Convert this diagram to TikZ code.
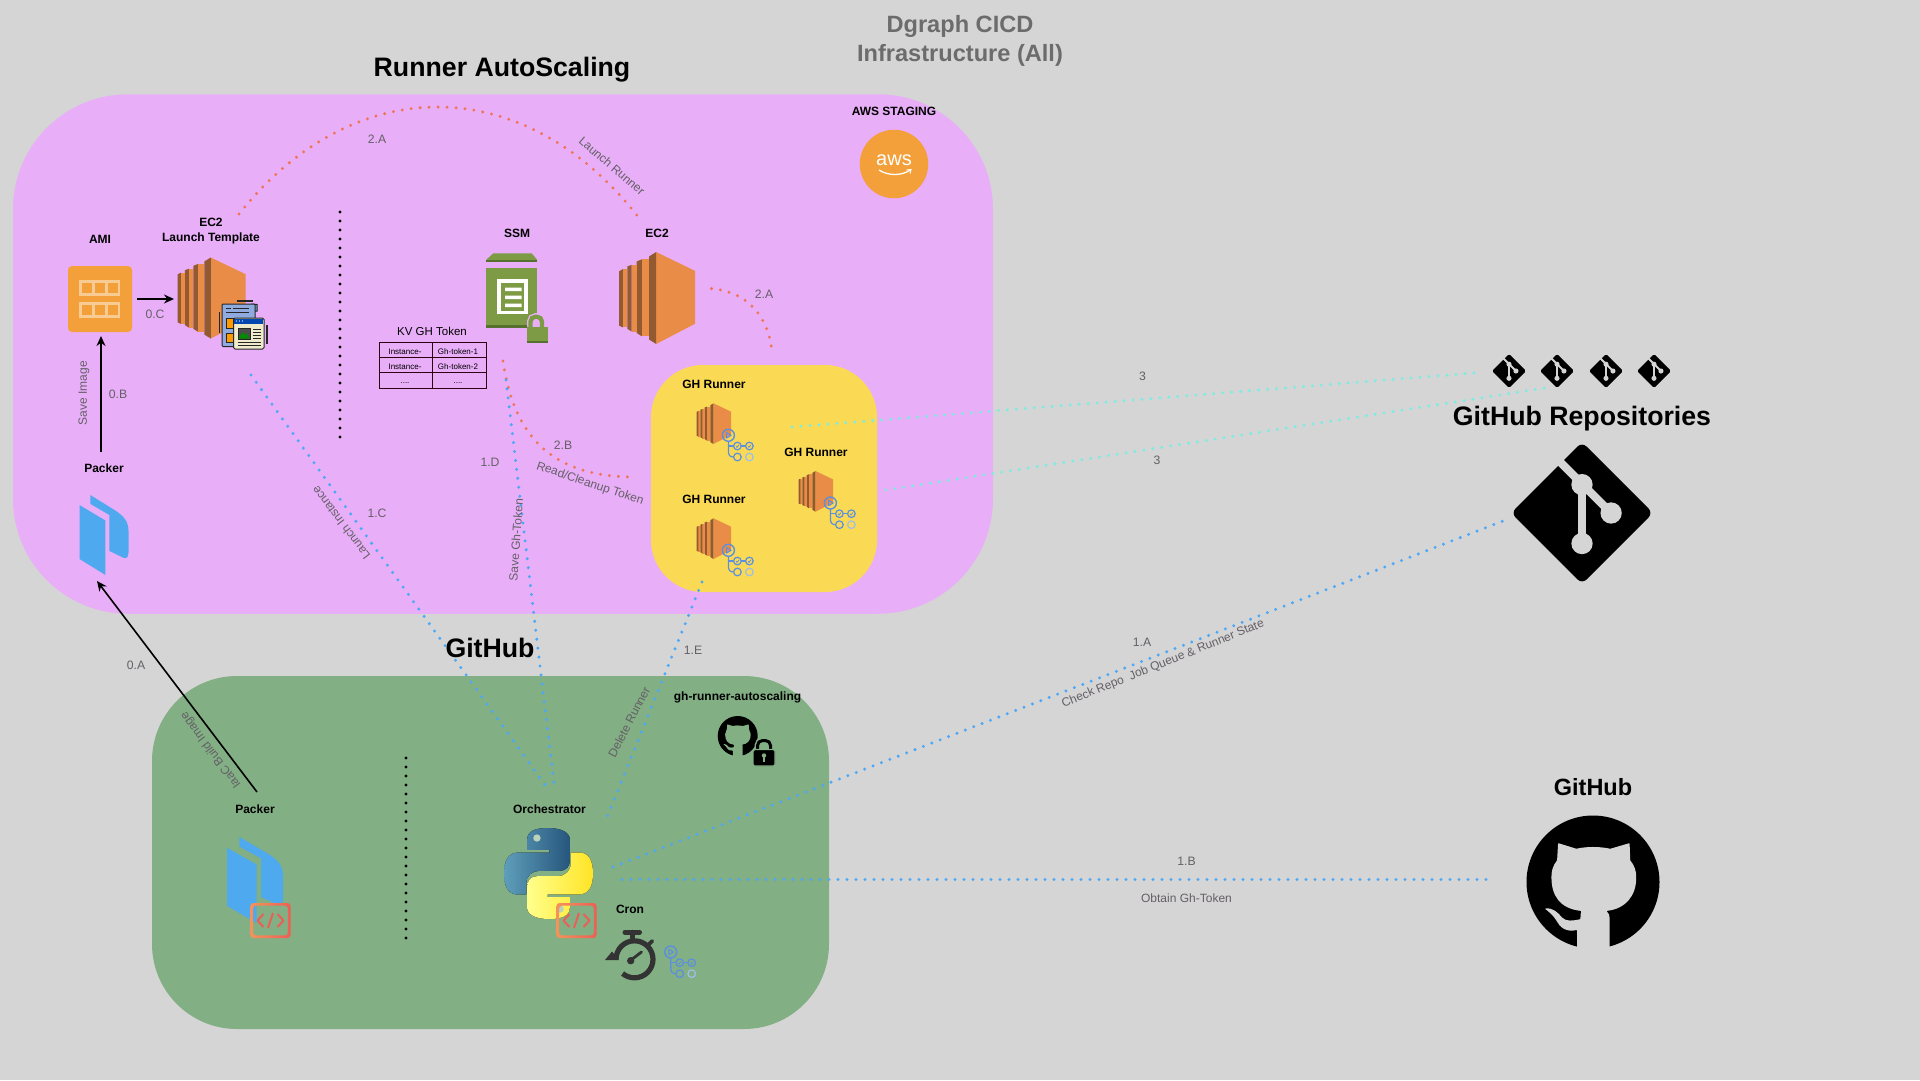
\documentclass[tikz,border=0pt]{standalone}
\usepackage{fontspec}
\setmainfont{Liberation Sans}
\usetikzlibrary{arrows.meta}
\definecolor{bgc}{HTML}{D5D5D5}
\definecolor{pinkc}{HTML}{E9AEF8}
\definecolor{yellowc}{HTML}{FADA55}
\definecolor{greenc}{HTML}{82AF84}
\definecolor{bluedot}{HTML}{4DA8F7}
\definecolor{reddot}{HTML}{EE7558}
\definecolor{cyandot}{HTML}{7DEDE2}
\definecolor{graytxt}{HTML}{646066}
\definecolor{awso}{HTML}{F3A03A}
\definecolor{ecl}{HTML}{E98C47}
\definecolor{ecd}{HTML}{935930}
\definecolor{ssmg}{HTML}{7D9B45}
\definecolor{ssmd}{HTML}{55702F}
\definecolor{pk}{HTML}{4FA9EE}
\definecolor{act}{HTML}{5B8FE0}
\definecolor{actp}{HTML}{9FBEE8}
\definecolor{badgea}{HTML}{F4935A}
\definecolor{badgeb}{HTML}{EC5F55}
\newcommand{\fsz}[2]{\fontsize{#1}{#2}\selectfont}
\tikzset{
  x=1pt,y=-1pt,
  every node/.style={inner sep=0pt,outer sep=0pt},
  dotline/.style={line cap=round,line width=3.3pt,dash pattern=on 0pt off 9pt},
  bigarrow/.style={line width=1.6pt,-{Stealth[length=10pt,width=9pt]}},
  boldlbl/.style={font=\bfseries\fsz{12}{15},text=black,align=center},
  steplbl/.style={font=\fsz{12.2}{14},text=graytxt},
  edgelbl/.style={font=\fsz{12}{14},text=graytxt},
  bigtitle/.style={font=\bfseries\fsz{26.7}{30},text=black},
  tabletxt/.style={font=\fsz{8}{9},text=black},
  panel/.style={rectangle,draw=none},
}
% EC2 icon: x0,y0,w,h
\newcommand{\ecicon}[4]{\begin{scope}[shift={(#1,#2)},x=#3pt,y=-#4pt]
  \fill[ecl] (.489,0)--(1,.205)--(1,.78)--(.489,1)--cycle;
  \fill[ecd] (.396,.048)--(.489,0)--(.489,1)--(.396,.952)--cycle;
  \fill[ecl] (.30,.08)--(.396,.08)--(.396,.916)--(.30,.916)--cycle;
  \fill[ecd] (.233,.103)--(.30,.08)--(.30,.916)--(.233,.88)--cycle;
  \fill[ecl] (.167,.139)--(.233,.139)--(.233,.865)--(.167,.865)--cycle;
  \fill[ecd] (.11,.157)--(.167,.139)--(.167,.865)--(.11,.835)--cycle;
  \fill[ecl] (.05,.186)--(.11,.186)--(.11,.82)--(.05,.82)--cycle;
  \fill[ecd] (0,.21)--(.05,.186)--(.05,.82)--(0,.80)--cycle;
\end{scope}}
% actions workflow icon: top-left x,y
\newcommand{\acticon}[2]{\begin{scope}[shift={(#1,#2)},line width=1.2pt]
  \draw[act,line width=1.4pt] (6.7,7) circle[radius=6pt];
  \draw[act,line width=1pt,line join=round] (4.8,4.2)--(9.5,7)--(4.8,9.8)--cycle;
  \draw[act] (6.7,13)--(6.7,23) .. controls (6.7,27) and (8.5,28.7) .. (11.9,28.7);
  \draw[act] (6.7,17.7)--(11.9,17.7);
  \draw[act] (19.5,17.7)--(23.9,17.7);
  \draw[act] (15.7,17.7) circle[radius=3.8pt];
  \draw[act] (27.7,17.7) circle[radius=3.8pt];
  \draw[act] (15.7,28.7) circle[radius=3.8pt];
  \draw[actp] (27.7,28.7) circle[radius=3.8pt];
  \draw[act,line width=.7pt] (14.2,17.8)--(15.3,19)--(17.3,16.6);
  \draw[act,line width=.7pt] (26.2,17.8)--(27.3,19)--(29.3,16.6);
\end{scope}}
% git logo: cx,cy,half-diagonal,colour of cut-outs
\newcommand{\gitlogo}[4]{\begin{scope}[shift={(#1,#2)},x=#3pt,y=-#3pt]
  \pgfmathsetmacro{\rc}{0.09*#3}
  \pgfmathsetmacro{\lwa}{0.115*#3}
  \pgfmathsetmacro{\rr}{0.15*#3}
  \fill[black,rounded corners=\rc pt] (0,-1)--(1,0)--(0,1)--(-1,0)--cycle;
  \draw[#4,line width=\lwa pt] (-.36,-.77)--(.41,0);
  \draw[#4,line width=\lwa pt] (0,-.4)--(0,.43);
  \fill[#4] (0,-.4) circle[radius=\rr pt];
  \fill[#4] (.41,0) circle[radius=\rr pt];
  \fill[#4] (0,.43) circle[radius=\rr pt];
\end{scope}}
% octocat: cx,cy,r,cut-out colour
\newcommand{\octo}[4]{\begin{scope}[shift={(#1,#2)},x=#3pt,y=-#3pt]
  \fill[black] (0,0) circle[radius=#3pt];
  \fill[#4,rounded corners=.6pt] (-.525,-.585) -- (-.25,-.5) .. controls (-.1,-.535) and (.1,-.535) .. (.26,-.5)
    -- (.55,-.585) -- (.56,-.325) .. controls (.62,-.25) and (.65,-.17) .. (.65,-.075)
    .. controls (.65,.2) and (.5,.4) .. (.2,.435)
    .. controls (.24,.46) and (.25,.5) .. (.25,.6) -- (.25,.93) -- (.25,1.06) -- (-.24,1.06) -- (-.24,.93) -- (-.24,.72)
    .. controls (-.4,.76) and (-.5,.68) .. (-.55,.58) .. controls (-.6,.5) and (-.66,.45) .. (-.725,.4)
    .. controls (-.6,.38) and (-.52,.47) .. (-.47,.53) .. controls (-.4,.6) and (-.3,.58) .. (-.19,.56)
    .. controls (-.19,.5) and (-.18,.46) .. (-.175,.435)
    .. controls (-.5,.4) and (-.625,.2) .. (-.625,-.075) .. controls (-.625,-.17) and (-.6,-.25) .. (-.54,-.325) -- cycle;
\end{scope}}
% code badge: x0,y0 (40x35)
\newcommand{\badge}[2]{\begin{scope}[shift={(#1,#2)}]
  \shade[even odd rule,left color=badgea,right color=badgeb,rounded corners=3pt] (0,0) rectangle (40,35) (2.6,2.6) rectangle (37.4,32.4);
  \draw[badgeb,line width=2pt,line join=round] (13,11)--(7,17.5)--(13,24);
  \draw[badgeb,line width=2pt,line join=round] (27,11)--(33,17.5)--(27,24);
  \draw[badgeb,line width=2pt] (22.5,10)--(17.5,25);
\end{scope}}
% packer icon: x0,y0,w,h
\newcommand{\packer}[4]{\begin{scope}[shift={(#1,#2)},x=#3pt,y=-#4pt]
  \fill[pk] (0,.125)--(.53,.32)--(.53,1)--(0,.8)--cycle;
  \fill[pk] (.22,0)--(.72,.19) .. controls (.9,.26) and (1,.33) .. (1,.45) -- (1,.72) .. controls (1,.8) and (.92,.8) .. (.85,.77)
    -- (.61,.70) -- (.61,.25) -- (.22,.11) -- cycle;
\end{scope}}
\begin{document}
\begin{tikzpicture}
\useasboundingbox (0,0) rectangle (1920,1080);
\fill[bgc] (0,0) rectangle (1920,1080);
% panels
\node[panel,fill=pinkc,minimum width=980pt,minimum height=519.5pt,rounded corners=115pt] (awspanel) at (503,354) {};
\node[panel,fill=yellowc,minimum width=226pt,minimum height=227pt,rounded corners=52pt] (runnerpanel) at (764,478.5) {};
\node[panel,fill=greenc,minimum width=677pt,minimum height=353pt,rounded corners=85pt] (repopanel) at (490.5,852.5) {};
% connector ends
\coordinate (ltTop) at (239,214);
\coordinate (ecTop) at (639,218);
\coordinate (ecSide) at (711.5,288.6);
\coordinate (runTop) at (772,354);
\coordinate (ssmLow) at (503,361);
\coordinate (runLeft) at (629,477);
\coordinate (ltLow) at (251,375);
\coordinate (orchA) at (545,785);
\coordinate (ssmKey) at (506,380);
\coordinate (orchB) at (554,784);
\coordinate (runLow) at (702,582);
\coordinate (orchC) at (607.6,816);
\coordinate (orchD) at (613,867);
\coordinate (gitBig) at (1503,521);
\coordinate (orchE) at (622,879.5);
\coordinate (octoBig) at (1487,879.5);
\coordinate (runA) at (792,427);
\coordinate (repoA) at (1474,373);
\coordinate (runB) at (886,490);
\coordinate (repoB) at (1545,388);
\coordinate (amiIn) at (101,336);
\coordinate (pkOut) at (101,452);
\coordinate (amiOut) at (137,299);
\coordinate (ltIn) at (174,299);
\coordinate (pkGreenOut) at (257,792);
\coordinate (pkIn) at (97,581);
\coordinate (dotA) at (340,212);
\coordinate (dotB) at (340,437);
\coordinate (dotC) at (406,758);
\coordinate (dotD) at (406,939);
% dotted connectors
\draw[dotline,reddot] (ltTop) .. controls (353,70.7) and (525,70.7) .. (ecTop);
\draw[dotline,reddot] (ecSide) .. controls (750,292) and (770,320) .. (runTop);
\draw[dotline,reddot] (ssmLow) .. controls (515,445) and (560,475) .. (runLeft);
\draw[dotline,bluedot] (ltLow) -- (orchA);
\draw[dotline,bluedot] (ssmKey) -- (orchB);
\draw[dotline,bluedot] (runLow) -- (orchC);
\draw[dotline,bluedot] (orchD) -- (gitBig);
\draw[dotline,bluedot] (orchE) -- (octoBig);
\draw[dotline,cyandot] (runA) -- (repoA);
\draw[dotline,cyandot] (runB) -- (repoB);
\draw[dotline,black] (dotA) -- (dotB);
\draw[dotline,black] (dotC) -- (dotD);
% solid arrows
\draw[bigarrow] (pkOut) -- (amiIn);
\draw[bigarrow] (amiOut) -- (ltIn);
\draw[bigarrow] (pkGreenOut) -- (pkIn);
% titles
\node[font=\bfseries\fsz{23.6}{28.5},text=gray!85!black,align=center] (maintitle) at (960,41) {Dgraph CICD\\Infrastructure (All)};
\node[font=\bfseries\fsz{26.7}{30},text=black] (runnertitle) at (502,70) {Runner AutoScaling};
\node[bigtitle] (githubtitle) at (490,648) {GitHub};
\node[bigtitle] (repostitle) at (1582,419) {GitHub Repositories};
\node[font=\bfseries\fsz{23.5}{26},text=black] (ghright) at (1593,787) {GitHub};
% aws
\node[boldlbl] (awslbl) at (894,111) {AWS STAGING};
\node[circle,fill=awso,minimum size=68.5pt] (awscircle) at (894,164) {};
\node[font=\fsz{20}{20},text=white] (awstxt) at (894,160) {aws};
\draw[white,line width=1.3pt] (879,170) .. controls (888,176) and (902,176) .. (910,170);
\draw[white,line width=1pt] (906.5,170)--(911,169.5)--(910,173.5);
% AMI
\node[boldlbl] (amilbl) at (100,239) {AMI};
\node[panel,fill=awso,minimum width=64pt,minimum height=66pt,rounded corners=4pt] (ami) at (100,299) {};
\foreach \yy in {280,301.7}{
  \fill[awso!55!white] (79.3,\yy) rectangle (120,\yy+16);
  \foreach \xx in {82.3,95,107.7}{\fill[awso] (\xx,\yy+3) rectangle (\xx+10,\yy+13);}
}
\node[steplbl] (zeroC) at (155,314) {0.C};
% Launch template
\node[boldlbl] (ltlbl) at (211,231.5) {EC2\\Launch Template};
\ecicon{177.5}{257.5}{68}{81}
\begin{scope}[line width=1pt,draw=black!85]
  \fill[black!85] (236.7,300.3) rectangle (252.7,301.6);
  \fill[black!85] (218.6,311.7) rectangle (219.9,333);
  \fill[black!85] (266.4,325) rectangle (267.7,344);
  \filldraw[fill=blue!20!cyan!50!gray!85!white] (252,304)--(257,304.5)--(257,311)--(252,311)--cycle;
  \filldraw[fill=cyan!45!blue!45!white,rounded corners=1pt] (222,304) rectangle (255,346.5);
  \draw (226,308)--(231,308) (233,308)--(249,308) (226,312)--(249,312);
  \filldraw[fill=orange!80!yellow] (226.5,318) rectangle (233,328);
  \filldraw[fill=orange!80!yellow] (226.5,333) rectangle (233,342);
  \filldraw[fill=yellow!15!white!92!black,rounded corners=1.5pt] (233.5,318) rectangle (264,349);
  \fill[blue!60!cyan!70!black] (234,318.6) rectangle (263.4,323.8);
  \fill[white] (236.5,321) circle[radius=.7pt] (239.5,321) circle[radius=.7pt] (242.5,321) circle[radius=.7pt];
  \filldraw[fill=black!70] (238,328) rectangle (250,339);
  \fill[green!55!black] (238.5,338.5)--(243,332)--(245.5,335)--(247,333.5)--(249.5,338.5)--cycle;
  \draw (253,329)--(261,329) (253,332)--(261,332) (253,335)--(261,335) (253,338)--(261,338) (238,342.5)--(261,342.5) (238,345.5)--(261,345.5);
\end{scope}
% Packer (aws)
\node[boldlbl] (pklbl) at (104,468) {Packer};
\packer{79.5}{495}{49}{80}
\node[edgelbl,rotate=90] (saveimg) at (84,393) {Save Image};
\node[steplbl] (zeroB) at (118,394) {0.B};
% KV table
\node[font=\fsz{11.5}{13},text=black] (kvlbl) at (432,331) {KV GH Token};
\draw[black!75!purple,line width=.9pt] (379,342) rectangle (486,388) (379,357)--(486,357) (379,372)--(486,372) (432,342)--(432,388);
\node[tabletxt] (ta) at (405,351.7) {Instance-};
\node[tabletxt] (tb) at (458,351.7) {Gh-token-1};
\node[tabletxt] (tc) at (405,367) {Instance-};
\node[tabletxt] (td) at (458,367) {Gh-token-2};
\node[tabletxt] (te) at (405,383) {....};
\node[tabletxt] (tf) at (458,383) {....};
% SSM
\node[boldlbl] (ssmlbl) at (517,233) {SSM};
\fill[ssmg] (493.3,253.3)--(531.7,253.3)--(537.3,260)--(486,260)--cycle;
\fill[ssmd] (486,260) rectangle (537.3,262.3);
\fill[ssmg] (486,268.3) rectangle (537.3,325);
\fill[ssmd] (486,325) rectangle (537.3,327.7);
\fill[white] (497.3,279) rectangle (528.3,314.3);
\fill[ssmg] (501,282.7) rectangle (524.3,310.7);
\fill[white] (505,287.7) rectangle (521.7,291) (505,295.7) rectangle (521.7,299) (505,303.7) rectangle (521.7,307);
\draw[pinkc,line width=7pt,rounded corners=5pt,fill=pinkc] (530.5,330)--(530.5,316.7)--(542,316.7)--(542,330)--cycle;
\draw[ssmg,line width=4.3pt,rounded corners=5pt] (530.5,330)--(530.5,316.7)--(542,316.7)--(542,330);
\fill[ssmg] (526.7,326.7) rectangle (547.7,341);
\fill[ssmd] (526.7,341) rectangle (547.7,343.3);
% EC2
\node[boldlbl] (eclbl) at (657,233) {EC2};
\ecicon{619}{252}{76}{92}
% runners
\node[boldlbl] (runa) at (714,384) {GH Runner};
\node[boldlbl] (runb) at (714,499) {GH Runner};
\node[boldlbl] (runc) at (816,452) {GH Runner};
\ecicon{696.7}{403.3}{34.3}{40.7}
\ecicon{696.7}{518.3}{34.3}{40.7}
\ecicon{798.7}{471}{34.3}{40.7}
\acticon{721.7}{428.3}
\acticon{721.7}{543.3}
\acticon{823.7}{496}
% edge labels
\node[steplbl] (l2a) at (377,139) {2.A};
\node[edgelbl,rotate=-40.5] (launchrun) at (612,166) {Launch Runner};
\node[steplbl] (l2a2) at (764,294) {2.A};
\node[steplbl] (l2b) at (563,445) {2.B};
\node[edgelbl,rotate=-18.6] (readtok) at (590,484) {Read/Cleanup Token};
\node[steplbl] (l1d) at (490,462) {1.D};
\node[edgelbl,rotate=86] (savetok) at (516,540) {Save Gh-Token};
\node[steplbl] (l1c) at (377,513) {1.C};
\node[edgelbl,rotate=127] (launchinst) at (341,523) {Launch Instance};
\node[steplbl] (l1e) at (693,650) {1.E};
\node[edgelbl,rotate=62.6] (delrun) at (629,722) {Delete Runner};
\node[steplbl] (l0a) at (136,665) {0.A};
\node[edgelbl,rotate=127] (iaac) at (211,750) {IaaC Build Image};
\node[steplbl] (l1a) at (1142,642) {1.A};
\node[edgelbl,rotate=21.9] (checkrepo) at (1163,664) {Check Repo\ \ Job Queue \& Runner State};
\node[steplbl] (l1b) at (1186.5,861) {1.B};
\node[edgelbl] (obtain) at (1186.5,898) {Obtain Gh-Token};
\node[steplbl] (l3a) at (1142.5,376) {3};
\node[steplbl] (l3b) at (1157,460) {3};
% green panel
\node[boldlbl] (repolbl) at (737.5,697) {gh-runner-autoscaling};
\octo{737.7}{736}{20}{greenc}
\draw[greenc,line width=6pt,rounded corners=5pt] (757.5,752)--(757.5,740.5)--(770.5,740.5)--(770.5,752);
\draw[black,line width=3pt,rounded corners=5pt] (757.5,752)--(757.5,740.5)--(770.5,740.5)--(770.5,752);
\filldraw[fill=black,draw=greenc,line width=1.4pt,rounded corners=1.5pt] (753,749.5) rectangle (775,766);
\fill[greenc] (764,755.5) circle[radius=2.2pt];
\fill[greenc] (763,756) rectangle (765,761.5);
\node[boldlbl] (pkglbl) at (255,809) {Packer};
\packer{227}{837}{56}{86}
\badge{250.5}{903}
\node[boldlbl] (orchlbl) at (549.5,809) {Orchestrator};
\begin{scope}[shift={(504,828)},x=89pt,y=-91pt]
  \fill[left color=blue!30!cyan!40!gray!90!white,right color=blue!45!cyan!40!black!85!white]
    (.49,0) .. controls (.34,0) and (.26,.04) .. (.26,.13) -- (.26,.24) -- (.51,.24) -- (.51,.27) -- (.16,.27)
    .. controls (.05,.27) and (0,.36) .. (0,.5) .. controls (0,.64) and (.05,.73) .. (.15,.73) -- (.25,.73) -- (.25,.61)
    .. controls (.25,.52) and (.32,.47) .. (.4,.47) -- (.63,.47) .. controls (.7,.47) and (.74,.42) .. (.74,.35)
    -- (.74,.13) .. controls (.74,.05) and (.65,0) .. (.49,0) -- cycle;
  \fill[green!20!gray!45!white] (.37,.11) circle[radius=3.7pt];
  \fill[left color=yellow!45!white,right color=yellow!75!orange!85!white]
    (.51,1) .. controls (.66,1) and (.74,.96) .. (.74,.87) -- (.74,.76) -- (.49,.76) -- (.49,.73) -- (.84,.73)
    .. controls (.95,.73) and (1,.64) .. (1,.5) .. controls (1,.36) and (.95,.27) .. (.85,.27) -- (.75,.27) -- (.75,.39)
    .. controls (.75,.48) and (.68,.53) .. (.6,.53) -- (.37,.53) .. controls (.3,.53) and (.26,.58) .. (.26,.65)
    -- (.26,.87) .. controls (.26,.95) and (.35,1) .. (.51,1) -- cycle;
  \fill[green!20!gray!45!white] (.63,.89) circle[radius=3.7pt];
\end{scope}
\badge{556.5}{903}
\node[boldlbl] (cronlbl) at (630,909) {Cron};
\begin{scope}[draw=black!80,line cap=round]
  \draw[line width=5.2pt,line cap=butt] (616,959.3) arc[start angle=180,end angle=-130,radius=18.5pt];
  \fill[black!80] (605,960)--(619,960)--(612,951.5)--cycle;
  \draw[line width=5pt] (625,932.3)--(639.5,932.3);
  \draw[line width=5pt] (632.3,932.3)--(632.3,938);
  \draw[line width=3.8pt] (648,945)--(652.3,941);
  \fill[black!80] (630.7,960.7) circle[radius=3.7pt];
  \draw[line width=2.8pt] (631,960)--(641.5,952);
\end{scope}
\acticon{664}{945}
% right column
\gitlogo{1509}{371}{17}{bgc}
\gitlogo{1557}{371}{17}{bgc}
\gitlogo{1606}{371}{17}{bgc}
\gitlogo{1654}{371}{17}{bgc}
\gitlogo{1582}{513}{71}{bgc}
\octo{1593}{882}{66.5}{bgc}
\end{tikzpicture}
\end{document}
